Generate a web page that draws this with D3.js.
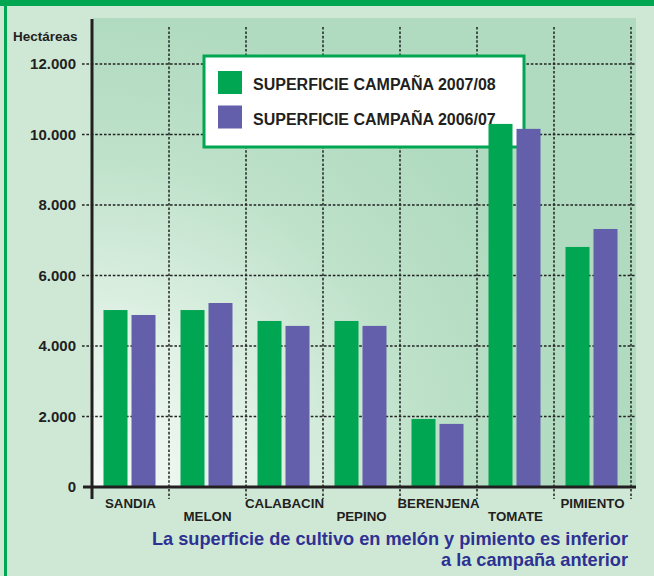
<!DOCTYPE html>
<html>
<head>
<meta charset="utf-8">
<script src="https://cdn.jsdelivr.net/npm/d3@7"></script>
<style>
  html, body { margin: 0; padding: 0; background: #cfe8d6; }
  svg { display: block; }
  text { font-family: "Liberation Sans", Arial, Helvetica, sans-serif; }
</style>
</head>
<body>
<script>
const categories = ["SANDIA", "MELON", "CALABACIN", "PEPINO", "BERENJENA", "TOMATE", "PIMIENTO"];
const campana0708 = [5020, 5020, 4710, 4710, 1930, 10300, 6810];
const campana0607 = [4880, 5220, 4570, 4570, 1790, 10160, 7320];
const seriesNames = ["SUPERFICIE CAMPAÑA 2007/08", "SUPERFICIE CAMPAÑA 2006/07"];
const yTicks = [0, 2000, 4000, 6000, 8000, 10000, 12000];
const yTickLabels = ["0", "2.000", "4.000", "6.000", "8.000", "10.000", "12.000"];
const yTitle = "Hectáreas";
const captionLines = ["La superficie de cultivo en melón y pimiento es inferior", "a la campaña anterior"];

const W = 654, H = 576;
const green = "#00a651", purple = "#635fab", ink = "#231f20", capColor = "#2e3192";

const svg = d3.select("body").append("svg").attr("width", W).attr("height", H);
const defs = svg.append("defs");
const rg = defs.append("radialGradient").attr("id", "panelGrad")
  .attr("gradientUnits", "userSpaceOnUse")
  .attr("cx", 93).attr("cy", 487).attr("r", 470);
rg.append("stop").attr("offset", 0).attr("stop-color", "#f6fbf7");
rg.append("stop").attr("offset", 0.35).attr("stop-color", "#e0f1e5");
rg.append("stop").attr("offset", 0.72).attr("stop-color", "#bde1c9");
rg.append("stop").attr("offset", 1).attr("stop-color", "#b1dbc0");

// outer frame
svg.append("rect").attr("x", 0).attr("y", 0).attr("width", W).attr("height", H).attr("fill", "#cfe8d6");
svg.append("rect").attr("x", 0).attr("y", 0).attr("width", W).attr("height", 6).attr("fill", green);
svg.append("rect").attr("x", 4).attr("y", 0).attr("width", 3).attr("height", H).attr("fill", green);

const x = d3.scaleBand().domain(categories).range([92, 631]).paddingInner(0).paddingOuter(0);
const x1 = d3.scaleBand().domain([0, 1]).range([11.5, 63.5]).paddingInner(4 / 28);
const y = d3.scaleLinear().domain([0, 12000]).range([487, 64]);

// panel
svg.append("rect").attr("x", 93).attr("y", 18).attr("width", 636 - 93).attr("height", y(0) - 18)
  .attr("fill", "url(#panelGrad)");

// horizontal grid
svg.append("g").selectAll("line").data(yTicks.filter(d => d > 0)).join("line")
  .attr("x1", 82).attr("x2", 635).attr("y1", d => y(d)).attr("y2", d => y(d))
  .attr("stroke", "#222").attr("stroke-width", 1.5).attr("stroke-dasharray", "2.6,1.8");

// vertical grid
const seps = categories.slice(1).map(c => x(c)).concat([x.range()[1]]);
svg.append("g").selectAll("line").data(seps).join("line")
  .attr("x1", d => d).attr("x2", d => d).attr("y1", 27).attr("y2", 499)
  .attr("stroke", "#222").attr("stroke-width", 1.5).attr("stroke-dasharray", "2.6,1.8");

// legend box
const lg = svg.append("g");
lg.append("rect").attr("x", 204).attr("y", 56).attr("width", 320).attr("height", 91)
  .attr("fill", "#fff").attr("stroke", green).attr("stroke-width", 3);
[green, purple].forEach((c, i) => {
  lg.append("rect").attr("x", 218).attr("y", 71 + i * 34.5).attr("width", 24).attr("height", 23).attr("fill", c);
  lg.append("text").attr("x", 253).attr("y", 90 + i * 35).attr("font-size", 16).attr("font-weight", "bold")
    .attr("fill", ink).text(seriesNames[i]);
});

// bars
const data = categories.map((c, i) => ({ c, vals: [campana0708[i], campana0607[i]] }));
const gBars = svg.append("g");
data.forEach(d => {
  d.vals.forEach((v, j) => {
    gBars.append("rect")
      .attr("x", x(d.c) + x1(j)).attr("width", x1.bandwidth())
      .attr("y", y(v)).attr("height", y(0) - y(v))
      .attr("fill", j === 0 ? green : purple);
  });
});

// axes lines
svg.append("line").attr("x1", 83).attr("x2", 636).attr("y1", y(0)).attr("y2", y(0))
  .attr("stroke", ink).attr("stroke-width", 3);
svg.append("line").attr("x1", 92).attr("x2", 92).attr("y1", 19).attr("y2", 499)
  .attr("stroke", ink).attr("stroke-width", 3);

// y labels
svg.append("g").selectAll("text").data(yTicks).join("text")
  .attr("x", 76).attr("y", d => y(d) + 5.2).attr("text-anchor", "end")
  .attr("font-size", 15).attr("font-weight", "bold").attr("fill", ink)
  .text((d, i) => yTickLabels[i]);
svg.append("text").attr("x", 13).attr("y", 41).attr("font-size", 13.5).attr("font-weight", "bold")
  .attr("fill", ink).text(yTitle);

// category labels
svg.append("g").selectAll("text").data(categories).join("text")
  .attr("x", d => x(d) + x.bandwidth() / 2)
  .attr("y", (d, i) => i % 2 === 0 ? 507.5 : 521)
  .attr("text-anchor", "middle").attr("font-size", 13.3).attr("font-weight", "bold").attr("fill", ink)
  .text(d => d);

// caption
captionLines.forEach((t, i) => {
  svg.append("text").attr("x", 628).attr("y", 545 + i * 21).attr("text-anchor", "end")
    .attr("font-size", 18.2).attr("font-weight", "bold").attr("fill", capColor).text(t);
});
</script>
</body>
</html>
